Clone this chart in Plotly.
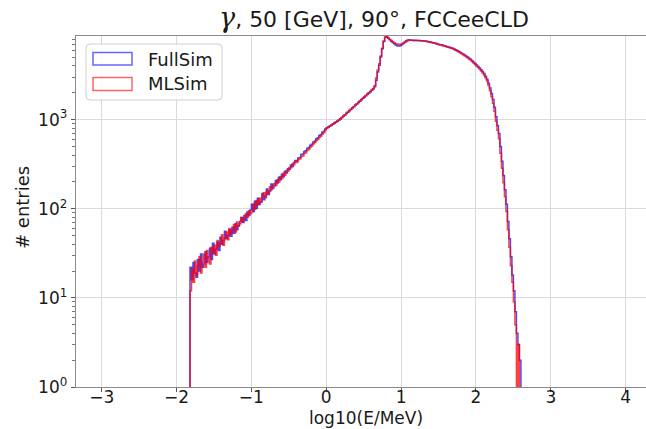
import plotly.graph_objects as go

# ---------------- data ----------------
BIN_START = -1.82
BIN_WIDTH = 0.02

fullsim_counts = [
    22, 16, 25, 19, 17, 27, 20, 31, 22, 24, 33, 25, 29, 36, 27, 41, 31, 35, 42, 34,
    48, 40, 44, 56, 46, 50, 58, 49, 62, 53, 68, 58, 64, 72, 79, 70, 84, 74, 92, 84, 97,
    112, 93, 121, 101, 131, 112, 119, 148, 126, 139, 167, 144, 158, 189, 170,
    181, 207, 194, 226, 211, 243, 229, 262, 252, 281, 276, 309, 298, 331, 348,
    343, 372, 376, 405, 410, 440, 446, 476, 485, 517, 528, 561, 574, 610, 626,
    663, 680, 720, 741, 782,
    808, 822, 850, 865, 895, 910, 940, 958, 990,
    1022, 1050, 1098, 1128, 1178, 1210, 1265, 1300, 1356, 1396, 1455, 1498, 1560,
    1608, 1676, 1726, 1798, 1852, 1930, 1988, 2070, 2145, 2240,
    2330, 2760, 3420, 4080, 5050, 6240, 7520, 8390, 8530, 8180, 7880, 7590, 7310,
    7080, 6890, 6760, 6700, 6750, 6930, 7200, 7420, 7650, 7810, 7870, 7790, 7770,
    7730, 7760, 7720, 7700, 7710, 7660, 7670, 7630, 7600, 7540, 7480, 7410, 7350,
    7290, 7230, 7150, 7060, 6980, 6920, 6850, 6770, 6690, 6620, 6540, 6470, 6380,
    6300, 6200, 6090, 5970, 5840, 5710, 5570, 5430, 5310, 5170, 5030, 4880, 4740,
    4580, 4410, 4250, 4090, 3940, 3790, 3620, 3460, 3280, 3070, 2840, 2550, 2260,
    1960, 1680, 1380, 1080, 860, 700, 500, 340, 236, 163, 112, 72, 46, 29, 18, 12,
    7, 4, 3, 2,
]

mlsim_counts = [
    12, 21, 15, 26, 18, 23, 29, 19, 25, 31, 22, 34, 28, 24, 37, 32, 39, 30, 44, 38,
    41, 51, 39, 47, 55, 45, 60, 52, 57, 66, 55, 71, 64, 68, 80, 72, 77, 88, 80, 95, 88,
    92, 112, 99, 124, 110, 131, 119, 140, 151, 133, 158, 149, 176, 163, 186,
    192, 182, 211, 199, 229, 219, 250, 238, 268, 263, 291, 288, 318, 312, 342,
    331, 356, 362, 385, 391, 418, 426, 455, 463, 492, 506, 536, 552, 583, 598,
    635, 651, 690, 710, 770,
    800, 830, 842, 872, 886, 918, 933, 965, 982,
    1014, 1060, 1089, 1137, 1168, 1220, 1254, 1309, 1346, 1405, 1446, 1507, 1551,
    1617, 1665, 1735, 1788, 1862, 1919, 1998, 2060, 2134, 2220,
    2420, 2930, 3600, 4220, 5170, 6330, 7600, 8400, 8480, 8230, 7960, 7700, 7450,
    7260, 7110, 7030, 6990, 6980, 7030, 7150, 7320, 7510, 7690, 7780, 7790, 7750,
    7740, 7730, 7720, 7700, 7680, 7660, 7640, 7610, 7570, 7520, 7450, 7380, 7310,
    7240, 7170, 7090, 7010, 6930, 6870, 6790, 6710, 6640, 6560, 6480, 6410, 6320,
    6230, 6130, 6010, 5890, 5750, 5620, 5480, 5340, 5220, 5080, 4940, 4790, 4650,
    4490, 4320, 4160, 4000, 3850, 3690, 3520, 3360, 3170, 2950, 2710, 2410, 2110,
    1810, 1530, 1240, 960, 760, 610, 420, 285, 196, 136, 93, 58, 37, 23, 15, 9,
    5, 0, 3, 0,
]

series_names = ["FullSim", "MLSim"]
x_tick_vals = [-3, -2, -1, 0, 1, 2, 3, 4]
y_tick_vals = [1, 10, 100, 1000]
y_tick_text = ["10<sup>0</sup>", "10<sup>1</sup>", "10<sup>2</sup>", "10<sup>3</sup>"]
title_text = ("<span style=\"font-family:'DejaVu Serif';font-size:27px\"><i>γ</i></span>, "
              "50 [GeV], 90°, FCCeeCLD")
x_label = "log10(E/MeV)"
y_label = "# entries"

# ---------------- layout geometry (pixels) ----------------
W, H = 646, 429
L, T, R, B = 76, 36, 646, 387
PW, PH = R - L, B - T
FONT = "DejaVu Sans"
TXT = "#1a1a1a"
BLUE_LINE = "rgba(0,0,255,0.72)"
RED_LINE = "rgba(255,0,0,0.75)"


def px(xp):
    return (xp - L) / PW


def py(yp):
    return (B - yp) / PH


def step_xy(counts):
    n = len(counts)
    edges = [BIN_START + BIN_WIDTH * k for k in range(n + 1)]
    floor = 0.05
    ys = [c if c > 0 else floor for c in counts]
    xs = [edges[0]] + edges[:n] + [edges[n], edges[n]]
    yv = [floor] + ys + [ys[-1], floor]
    return xs, yv


fig = go.Figure()
for counts, name, col in [(fullsim_counts, series_names[0], BLUE_LINE),
                          (mlsim_counts, series_names[1], RED_LINE)]:
    xs, ys = step_xy(counts)
    fig.add_trace(go.Scatter(x=xs, y=ys, mode="lines", name=name,
                             line=dict(color=col, width=1.5, shape="hv"),
                             showlegend=False, hoverinfo="skip"))

minor_vals = [m * 10 ** d for d in range(4) for m in range(2, 10)]

fig.update_layout(
    width=W, height=H,
    margin=dict(l=L, r=W - R, t=T, b=H - B, pad=0),
    paper_bgcolor="white", plot_bgcolor="white",
    font=dict(family=FONT, size=17, color=TXT),
    xaxis=dict(range=[-3.343, 4.271], tickvals=x_tick_vals,
               showgrid=True, gridcolor="#dadada", gridwidth=1,
               showline=True, linecolor="#8a8a8a", linewidth=1.3, mirror=True,
               ticks="outside", ticklen=4, tickcolor="#555", tickwidth=1,
               ticklabelstandoff=-10,
               tickfont=dict(size=17, color=TXT), zeroline=False, automargin=False),
    yaxis=dict(type="log", range=[0, 3.938], tickvals=y_tick_vals,
               ticktext=y_tick_text,
               showgrid=True, gridcolor="#dadada", gridwidth=1,
               showline=True, linecolor="#8a8a8a", linewidth=1.3, mirror=False,
               ticks="outside", ticklen=4, tickcolor="#555", tickwidth=1,
               tickfont=dict(size=17, color=TXT), zeroline=False, automargin=False,
               minor=dict(tickvals=minor_vals, ticks="outside", ticklen=2.5,
                          tickcolor="#777", tickwidth=1, showgrid=False)),
)

annotations = [
    dict(text=title_text, x=px(374), y=py(18), xref="paper", yref="paper",
         xanchor="center", yanchor="middle", showarrow=False,
         font=dict(size=22, color=TXT, family=FONT)),
    dict(text=x_label, x=px(366), y=py(418), xref="paper", yref="paper",
         xanchor="center", yanchor="middle", showarrow=False,
         font=dict(size=17, color=TXT, family=FONT)),
    dict(text=y_label, x=px(22), y=py(208), xref="paper", yref="paper",
         xanchor="center", yanchor="middle", showarrow=False, textangle=-90,
         font=dict(size=18, color=TXT, family=FONT)),
    dict(text=series_names[0], x=px(146), y=py(59), xref="paper", yref="paper",
         xanchor="left", yanchor="middle", showarrow=False,
         font=dict(size=18, color=TXT, family=FONT)),
    dict(text=series_names[1], x=px(146), y=py(84), xref="paper", yref="paper",
         xanchor="left", yanchor="middle", showarrow=False,
         font=dict(size=18, color=TXT, family=FONT)),
]
fig.update_layout(annotations=annotations)


def rounded_rect(x0, y0, x1, y1, r):
    rx, ry = r / PW, r / PH
    X0, X1 = px(x0), px(x1)
    Y0, Y1 = py(y0), py(y1)  # Y0 top (bigger), Y1 bottom
    return (f"M {X0+rx},{Y0} L {X1-rx},{Y0} Q {X1},{Y0} {X1},{Y0-ry} "
            f"L {X1},{Y1+ry} Q {X1},{Y1} {X1-rx},{Y1} L {X0+rx},{Y1} "
            f"Q {X0},{Y1} {X0},{Y1+ry} L {X0},{Y0-ry} Q {X0},{Y0} {X0+rx},{Y0} Z")


shapes = [
    dict(type="path", path=rounded_rect(86, 44, 222, 100, 4), xref="paper", yref="paper",
         line=dict(color="#d0d0d0", width=1), fillcolor="rgba(255,255,255,0.85)",
         layer="above"),
    dict(type="rect", x0=px(93), x1=px(132), y0=py(52.5), y1=py(65), xref="paper",
         yref="paper", line=dict(color="rgba(0,0,255,0.6)", width=1.5),
         fillcolor="rgba(0,0,0,0)", layer="above"),
    dict(type="rect", x0=px(93), x1=px(132), y0=py(77.5), y1=py(90.5), xref="paper",
         yref="paper", line=dict(color="rgba(255,0,0,0.6)", width=1.5),
         fillcolor="rgba(0,0,0,0)", layer="above"),
]
fig.update_layout(shapes=shapes)

fig.write_html("out.html", config={"displayModeBar": False, "staticPlot": True})

# remove the default page margin so the figure sits at the window's top-left corner
with open("out.html", "r", encoding="utf-8") as fh:
    page = fh.read()
page = page.replace("<body>", "<body style=\"margin:0;padding:0;overflow:hidden;\">", 1)
with open("out.html", "w", encoding="utf-8") as fh:
    fh.write(page)
